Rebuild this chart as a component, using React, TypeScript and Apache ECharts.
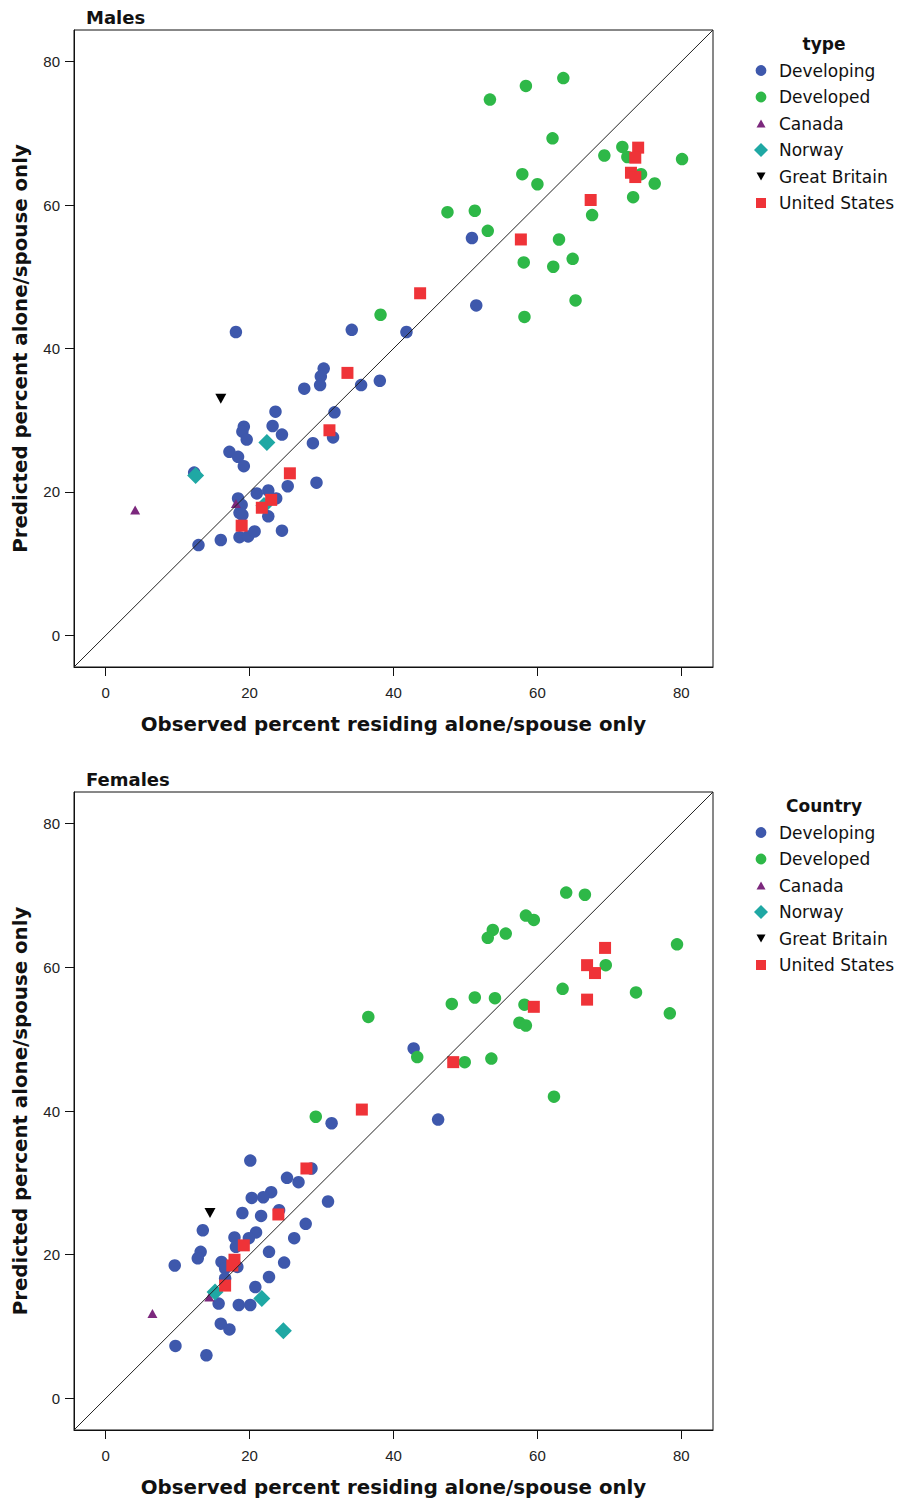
import React, { useEffect, useRef } from "react";
import * as echarts from "echarts";

// ---------- data ----------
const categories = ["Developing", "Developed", "Canada", "Norway", "Great Britain", "United States"];
const tickValues = [0, 20, 40, 60, 80];
const panelTitles = ["Males", "Females"];
const legendTitles = ["type", "Country"];
const xAxisTitle = "Observed percent residing alone/spouse only";
const yAxisTitle = "Predicted percent alone/spouse only";

const malesDeveloping = [
  [50.9, 55.4], [51.5, 46.0], [41.8, 42.3], [18.1, 42.3], [34.2, 42.6], [30.3, 37.2], [29.9, 36.1],
  [29.8, 34.9], [27.6, 34.4], [35.5, 34.9], [38.1, 35.5], [31.8, 31.1], [31.6, 27.6], [28.8, 26.8],
  [23.6, 31.2], [23.2, 29.2], [24.5, 28.0], [19.2, 29.1], [19.0, 28.4], [19.6, 27.3], [17.2, 25.6],
  [18.4, 24.9], [19.2, 23.6], [29.3, 21.3], [25.3, 20.8], [22.6, 20.2], [21.0, 19.8], [23.7, 19.1],
  [18.4, 19.1], [18.9, 18.2], [18.6, 17.1], [19.0, 16.8], [22.6, 16.6], [12.3, 22.7], [16.0, 13.3],
  [12.9, 12.6], [18.6, 13.7], [19.8, 13.8], [20.7, 14.5], [24.5, 14.6],
];
const malesDeveloped = [
  [53.4, 74.7], [58.4, 76.6], [63.6, 77.7], [62.1, 69.3], [71.8, 68.1], [72.5, 66.7], [69.3, 66.9],
  [80.1, 66.4], [74.4, 64.3], [76.3, 63.0], [73.3, 61.1], [57.9, 64.3], [60.0, 62.9], [67.6, 58.6],
  [47.5, 59.0], [51.3, 59.2], [53.1, 56.4], [63.0, 55.2], [58.1, 52.0], [62.2, 51.4], [64.9, 52.5],
  [65.3, 46.7], [58.2, 44.4], [38.2, 44.7],
];
const malesCanada = [[4.1, 17.5], [18.1, 18.4]];
const malesNorway = [[22.4, 26.9], [12.5, 22.3], [22.0, 18.1]];
const malesBritain = [[16.0, 33.0]];
const malesUS = [
  [74.0, 68.0], [73.6, 66.6], [73.0, 64.5], [73.6, 63.9], [67.4, 60.7], [57.7, 55.2], [43.7, 47.7],
  [33.6, 36.6], [31.1, 28.6], [25.6, 22.6], [23.0, 18.9], [21.7, 17.8], [18.9, 15.3],
];

const femalesDeveloping = [
  [42.8, 48.7], [46.2, 38.8], [31.4, 38.3], [20.1, 33.1], [25.2, 30.7], [26.8, 30.1], [28.6, 32.0],
  [23.0, 28.7], [21.9, 28.0], [20.3, 27.9], [30.9, 27.4], [24.1, 26.2], [19.0, 25.8], [21.6, 25.4],
  [27.8, 24.3], [13.5, 23.4], [20.9, 23.1], [19.9, 22.3], [17.9, 22.4], [26.2, 22.3], [18.1, 21.1],
  [13.2, 20.4], [12.8, 19.5], [22.7, 20.4], [16.1, 19.0], [9.6, 18.5], [24.8, 18.9], [18.3, 18.3],
  [16.6, 18.1], [16.6, 16.7], [22.7, 16.9], [20.8, 15.5], [15.7, 13.2], [18.5, 13.0], [20.1, 13.0],
  [16.0, 10.4], [17.2, 9.6], [9.7, 7.3], [14.0, 6.0],
];
const femalesDeveloped = [
  [64.0, 70.4], [66.6, 70.1], [58.4, 67.2], [59.5, 66.6], [53.8, 65.2], [53.1, 64.1], [55.6, 64.7],
  [79.4, 63.2], [69.5, 60.3], [63.5, 57.0], [73.7, 56.5], [78.4, 53.6], [48.1, 54.9], [51.3, 55.8],
  [54.1, 55.7], [58.2, 54.8], [57.5, 52.3], [58.4, 51.9], [43.3, 47.5], [49.9, 46.8], [53.6, 47.3],
  [62.3, 42.0], [36.5, 53.1], [29.2, 39.2],
];
const femalesCanada = [[6.5, 11.8], [14.4, 14.1]];
const femalesNorway = [[15.2, 14.8], [21.7, 13.9], [24.7, 9.4]];
const femalesBritain = [[14.5, 25.8]];
const femalesUS = [
  [69.4, 62.7], [66.9, 60.3], [68.0, 59.2], [66.9, 55.5], [59.5, 54.5], [48.3, 46.8], [35.6, 40.2],
  [27.9, 32.0], [24.0, 25.6], [19.2, 21.3], [17.9, 19.3], [17.6, 18.5], [16.6, 15.7],
];

const malesSets = [malesDeveloping, malesDeveloped, malesCanada, malesNorway, malesBritain, malesUS];
const femalesSets = [femalesDeveloping, femalesDeveloped, femalesCanada, femalesNorway, femalesBritain, femalesUS];
const axisRange = [-4.4, 84.4];

// ---------- styles ----------
const colors = ["#3E58AC", "#2EB848", "#7C287D", "#1FA8A4", "#000000", "#EF3338"];
const seriesSymbols = [
  "circle",
  "circle",
  "path://M5,0 L10,9 L0,9 Z",
  "diamond",
  "path://M0,0 L10,0 L5,9 Z",
  "rect",
];
const seriesSizes: any[] = [12.5, 12.5, [10, 9], [17, 17], [11, 10], [12, 12]];
const legendIcons = [
  "path://M0,0 M14,14 M1.6,7 A5.4,5.4 0 1 1 12.4,7 A5.4,5.4 0 1 1 1.6,7 Z",
  "path://M0,0 M14,14 M1.6,7 A5.4,5.4 0 1 1 12.4,7 A5.4,5.4 0 1 1 1.6,7 Z",
  "path://M0,0 M14,14 M7,3 L11.5,11 L2.5,11 Z",
  "path://M0,0 M14,14 M7,0 L14,7 L7,14 L0,7 Z",
  "path://M0,0 M14,14 M2.5,3 L11.5,3 L7,11 Z",
  "path://M0,0 M14,14 M2,2 L12,2 L12,12 L2,12 Z",
];

const FONT = "DejaVu Sans";

const panels = [
  { top: 30, height: 637, sets: malesSets },
  { top: 792, height: 638, sets: femalesSets },
];

function buildOption() {
  const grid: any[] = [];
  const xAxis: any[] = [];
  const yAxis: any[] = [];
  const series: any[] = [];
  const title: any[] = [];
  const legend: any[] = [];

  panels.forEach((p, i) => {
    grid.push({
      left: 74,
      top: p.top,
      width: 639,
      height: p.height,
      show: true,
      borderColor: "#111",
      borderWidth: 1,
    });
    const axisCommon = {
      type: "value",
      gridIndex: i,
      min: axisRange[0],
      max: axisRange[1],
      splitLine: { show: false },
      axisLine: { show: true, onZero: false, lineStyle: { color: "#111", width: 1 } },
      axisTick: { show: true, length: 9, customValues: tickValues, lineStyle: { color: "#111" } },
      nameLocation: "middle",
      nameTextStyle: { fontFamily: FONT, fontWeight: "bold", fontSize: 19.8, color: "#111" },
    };
    xAxis.push({
      ...axisCommon,
      name: xAxisTitle,
      nameGap: 47,
      axisLabel: {
        customValues: tickValues,
        margin: 18,
        fontFamily: "Liberation Sans",
        fontSize: 15,
        color: "#222",
      },
    });
    yAxis.push({
      ...axisCommon,
      name: yAxisTitle,
      nameGap: 44,
      axisLabel: {
        customValues: tickValues,
        margin: 14,
        fontFamily: "Liberation Sans",
        fontSize: 15,
        color: "#222",
      },
    });

    categories.forEach((c, k) => {
      series.push({
        type: "scatter",
        name: c,
        xAxisIndex: i,
        yAxisIndex: i,
        data: p.sets[k],
        symbol: seriesSymbols[k],
        symbolSize: seriesSizes[k],
        itemStyle: { color: colors[k], opacity: 1 },
        z: 2 + k,
        silent: true,
      });
    });
    series.push({
      type: "line",
      name: "diag" + i,
      xAxisIndex: i,
      yAxisIndex: i,
      data: [
        [axisRange[0], axisRange[0]],
        [axisRange[1], axisRange[1]],
      ],
      symbol: "none",
      lineStyle: { color: "#222", width: 1 },
      z: 10,
      silent: true,
    });

    title.push({
      text: panelTitles[i],
      left: 86,
      top: p.top - 22,
      padding: 0,
      textStyle: { fontFamily: FONT, fontWeight: "bold", fontSize: 18, color: "#111" },
    });
    title.push({
      text: legendTitles[i],
      left: 824,
      textAlign: "center",
      top: p.top + 5,
      padding: 0,
      textStyle: { fontFamily: FONT, fontWeight: "bold", fontSize: 17, color: "#111" },
    });
    legend.push({
      orient: "vertical",
      left: 754,
      top: p.top + 32,
      padding: 0,
      itemWidth: 14,
      itemHeight: 14,
      itemGap: 9.5,
      selectedMode: false,
      textStyle: {
        fontFamily: FONT,
        fontSize: 17,
        lineHeight: 17,
        color: "#111",
        padding: [0, 0, 0, 6],
      },
      data: categories.map((c, k) => ({ name: c, icon: legendIcons[k], itemStyle: { color: colors[k] } })),
    });
  });

  return { animation: false, backgroundColor: "#fff", title, legend, grid, xAxis, yAxis, series };
}

export default function App() {
  const ref = useRef<HTMLDivElement>(null);
  useEffect(() => {
    document.body.style.margin = "0";
    const chart = echarts.init(ref.current!, null, { renderer: "svg" });
    chart.setOption(buildOption() as any);
    return () => chart.dispose();
  }, []);
  return <div ref={ref} style={{ width: 906, height: 1502 }} />;
}
